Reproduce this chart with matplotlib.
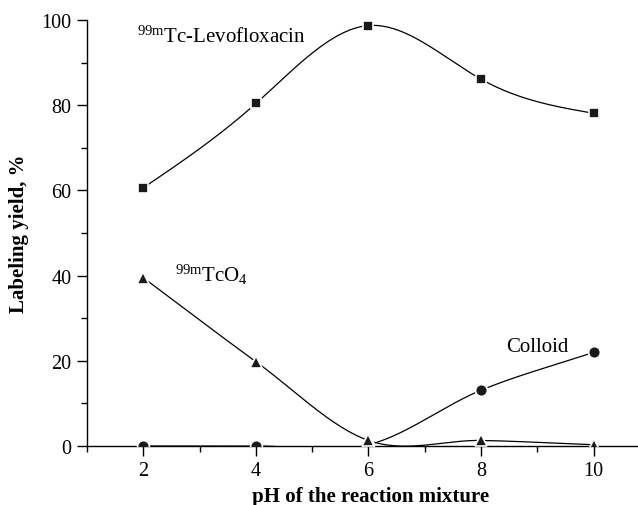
import numpy as np
import matplotlib
matplotlib.use("Agg")
import matplotlib.pyplot as plt
from matplotlib.ticker import MultipleLocator

# ---- data ----
ph = [2, 4, 6, 8, 10]
levofloxacin = [60.6, 80.4, 98.7, 86.1, 78.1]
pertechnetate = [39.5, 19.8, 1.3, 1.3, 0.3]
colloid = [0.0, 0.0, 0.3, 13.1, 22.0]
x_ticks = [2, 4, 6, 8, 10]
y_ticks = [0, 20, 40, 60, 80, 100]

plt.rcParams['font.family'] = ['Liberation Serif', 'DejaVu Serif']
plt.rcParams['mathtext.fontset'] = 'custom'
plt.rcParams['mathtext.rm'] = 'Liberation Serif'
plt.rcParams['mathtext.it'] = 'Liberation Serif:italic'
plt.rcParams['mathtext.bf'] = 'Liberation Serif:bold'


def natural_spline(x, y, xs):
    x = np.asarray(x, float)
    y = np.asarray(y, float)
    n = len(x)
    h = np.diff(x)
    A = np.zeros((n, n))
    b = np.zeros(n)
    A[0, 0] = 1
    A[-1, -1] = 1
    for i in range(1, n - 1):
        A[i, i - 1] = h[i - 1]
        A[i, i] = 2 * (h[i - 1] + h[i])
        A[i, i + 1] = h[i]
        b[i] = 6 * ((y[i + 1] - y[i]) / h[i] - (y[i] - y[i - 1]) / h[i - 1])
    M = np.linalg.solve(A, b)
    out = np.empty_like(xs)
    for k, xv in enumerate(xs):
        i = min(max(np.searchsorted(x, xv) - 1, 0), n - 2)
        t1 = x[i + 1] - xv
        t0 = xv - x[i]
        out[k] = (M[i] * t1 ** 3 / (6 * h[i]) + M[i + 1] * t0 ** 3 / (6 * h[i])
                  + (y[i] / h[i] - M[i] * h[i] / 6) * t1
                  + (y[i + 1] / h[i] - M[i + 1] * h[i] / 6) * t0)
    return out


def catmull_rom(x, y, xs):
    x = np.asarray(x, float)
    y = np.asarray(y, float)
    n = len(x)
    d = np.empty(n)
    d[0] = (y[1] - y[0]) / (x[1] - x[0])
    d[-1] = (y[-1] - y[-2]) / (x[-1] - x[-2])
    for i in range(1, n - 1):
        d[i] = (y[i + 1] - y[i - 1]) / (x[i + 1] - x[i - 1])
    out = np.empty_like(xs)
    for k, xv in enumerate(xs):
        i = min(max(np.searchsorted(x, xv) - 1, 0), n - 2)
        h = x[i + 1] - x[i]
        t = (xv - x[i]) / h
        h00 = 2 * t ** 3 - 3 * t ** 2 + 1
        h10 = t ** 3 - 2 * t ** 2 + t
        h01 = -2 * t ** 3 + 3 * t ** 2
        h11 = t ** 3 - t ** 2
        out[k] = h00 * y[i] + h10 * h * d[i] + h01 * y[i + 1] + h11 * h * d[i + 1]
    return out


fig = plt.figure(figsize=(6.38, 5.06), dpi=100)
ax = fig.add_axes([87 / 638, 1 - 447 / 506, 1 - 87 / 638, (447 - 21) / 506])

xs = np.linspace(min(ph), max(ph), 400)
for series, marker, ms, interp, z in [(levofloxacin, 's', 7.5, natural_spline, 3),
                                      (colloid, 'o', 8.5, catmull_rom, 3),
                                      (pertechnetate, '^', 8.5, catmull_rom, 4)]:
    ax.plot(xs, interp(ph, series, xs), color='black', lw=0.9, zorder=2)
    ax.plot(ph, series, linestyle='none', marker=marker, ms=ms,
            markerfacecolor='#1a1a1a', markeredgecolor='white',
            markeredgewidth=1.2, zorder=z)

ax.set_xlim(1, 10.787)
ax.set_ylim(0, 100)
ax.set_xticks(x_ticks)
ax.set_yticks(y_ticks)
ax.xaxis.set_minor_locator(MultipleLocator(1))
ax.yaxis.set_minor_locator(MultipleLocator(10))
ax.tick_params(which='major', direction='out', length=7, width=1,
               labelsize=14.5, pad=4)
ax.tick_params(which='minor', direction='out', length=4, width=1)
ax.spines['top'].set_visible(False)
ax.spines['right'].set_visible(False)
ax.spines['left'].set_linewidth(1)
ax.spines['bottom'].set_linewidth(1)

ax.set_ylabel('Labeling yield, %', fontsize=15, fontweight='bold')
ax.yaxis.set_label_coords(-0.105, 0.5)
fig.text(371 / 638, 1 - 502.5 / 506, 'pH of the reaction mixture',
         fontsize=15, fontweight='bold', ha='center', va='baseline')

ax.text(1.88, 94.8, r'$^{\mathrm{99m}}$Tc-Levofloxacin', fontsize=15,
        ha='left', va='baseline')
ax.text(2.56, 38.8, r'$^{\mathrm{99m}}$TcO$_{\mathrm{4}}$', fontsize=15,
        ha='left', va='baseline')
ax.text(8.44, 22.4, 'Colloid', fontsize=15, ha='left', va='baseline')

fig.savefig('out.png', dpi=100)
